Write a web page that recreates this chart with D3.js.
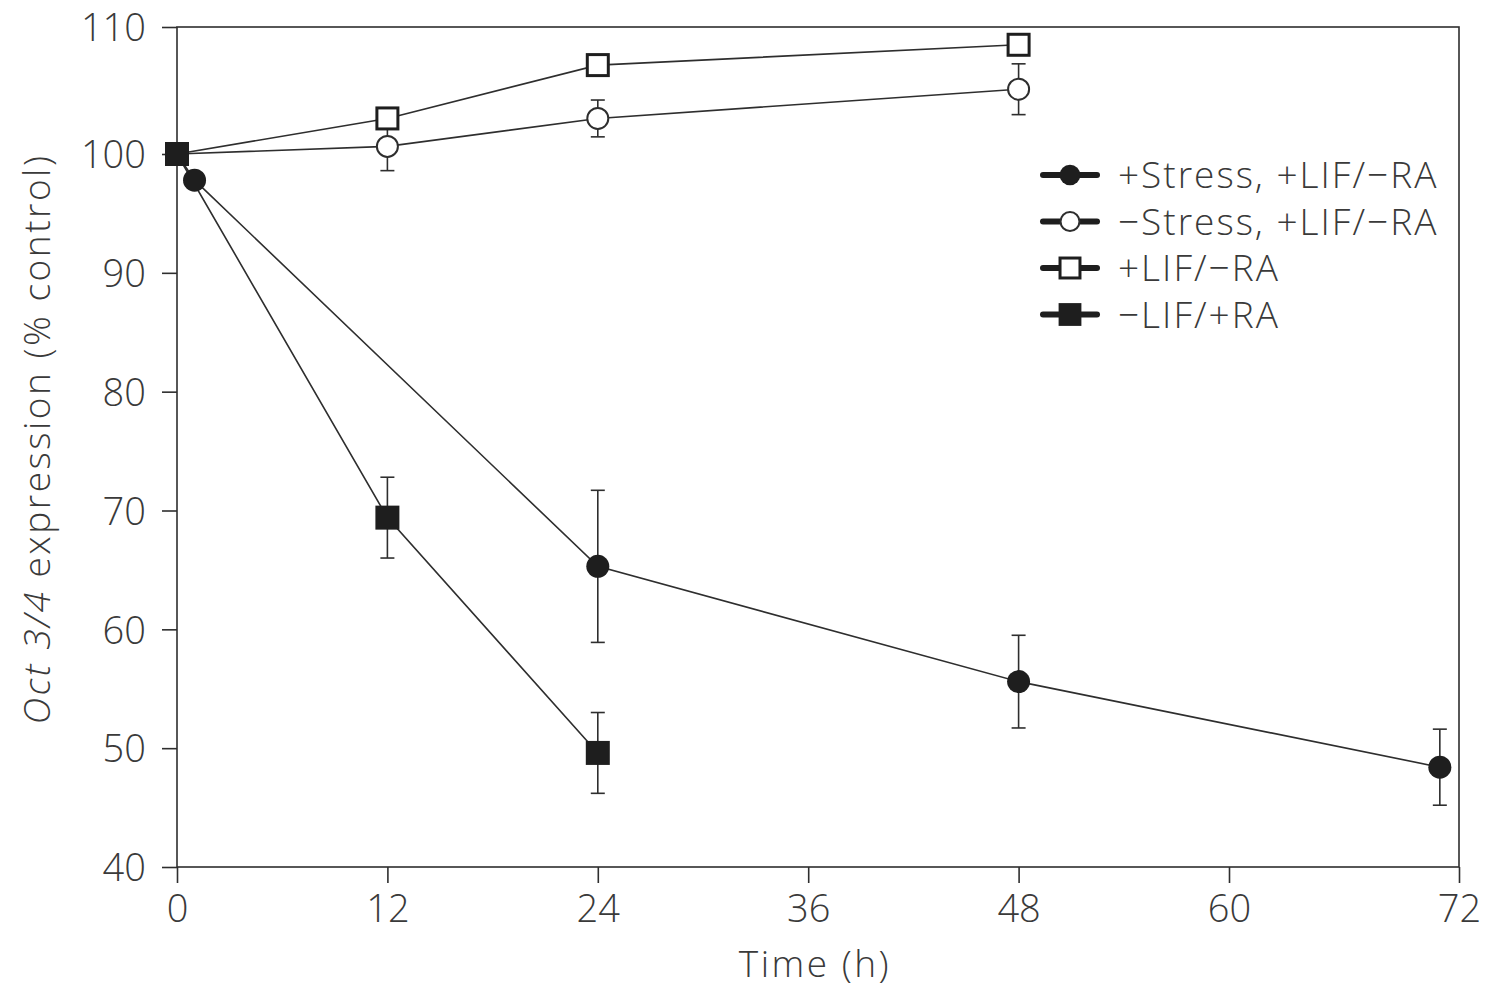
<!DOCTYPE html>
<html>
<head>
<meta charset="utf-8">
<script src="https://cdn.jsdelivr.net/npm/d3@7"></script>
<style>
  html, body { margin: 0; padding: 0; background: #fff; }
  svg { display: block; }
  text { font-family: "Open Sans", "Noto Sans", sans-serif; fill: #3a3a3a; font-weight: 350; }
</style>
</head>
<body>
<svg id="chart" width="1488" height="989"></svg>
<script>
// ---- Data ----
const xTicks = [0, 12, 24, 36, 48, 60, 72];
const yTicks = [40, 50, 60, 70, 80, 90, 100, 110];

const stressHours = [0, 1, 24, 48, 71];
const stressValues = [100, 97.8, 65.3, 55.6, 48.4];
const stressErr = [0, 0, 6.4, 3.9, 3.2];

const noStressHours = [0, 12, 24, 48];
const noStressValues = [100, 100.6, 102.8, 105.1];
const noStressErr = [0, 2.0, 1.45, 2.0];

const lifHours = [0, 12, 24, 48];
const lifValues = [100, 102.8, 107.0, 108.6];
const lifErr = [0, 0.4, 0.7, 0.5];

const raHours = [0, 12, 24];
const raValues = [100, 69.4, 49.6];
const raErr = [0, 3.4, 3.4];

const seriesNames = ["+Stress, +LIF/\u2212RA", "\u2212Stress, +LIF/\u2212RA", "+LIF/\u2212RA", "\u2212LIF/+RA"];

(function () {
function zip(h, v, e) { return h.map((d, i) => ({ x: d, y: v[i], e: e[i] })); }
const series = [
  { name: seriesNames[0], shape: "circle", filled: true, pts: zip(stressHours, stressValues, stressErr) },
  { name: seriesNames[1], shape: "circle", filled: false, pts: zip(noStressHours, noStressValues, noStressErr) },
  { name: seriesNames[2], shape: "square", filled: false, pts: zip(lifHours, lifValues, lifErr) },
  { name: seriesNames[3], shape: "square", filled: true, pts: zip(raHours, raValues, raErr) }
];

const svg = d3.select("#chart");
const pL = 177, pR = 1459, pT = 27, pB = 867;

// piecewise-linear scales reproduce the original figure's slightly uneven axes
const x = d3.scaleLinear().domain([0, 60, 72]).range([pL, 1229, pR]);
const y = d3.scaleLinear().domain([40, 100, 110]).range([pB, 154, pT]);

const ink = "#2e2e2e";
const txt = "#383838";

// Frame
svg.append("rect")
  .attr("x", pL).attr("y", pT)
  .attr("width", pR - pL).attr("height", pB - pT)
  .attr("fill", "none").attr("stroke", ink).attr("stroke-width", 1.6);

// Axes
const yAxis = svg.append("g").attr("transform", `translate(${pL},0)`)
  .call(d3.axisLeft(y).tickValues(yTicks).tickSize(15).tickSizeOuter(0).tickPadding(16));
const xAxis = svg.append("g").attr("transform", `translate(0,${pB})`)
  .call(d3.axisBottom(x).tickValues(xTicks).tickSize(16).tickSizeOuter(0).tickPadding(12));
[xAxis, yAxis].forEach(a => {
  a.select(".domain").remove();
  a.selectAll(".tick line").attr("stroke", ink).attr("stroke-width", 1.6);
  a.selectAll(".tick text").attr("font-size", 38).attr("fill", txt)
    .attr("font-weight", 350)
    .attr("font-family", "'Open Sans', 'Noto Sans', sans-serif");
});
yAxis.selectAll(".tick text").attr("dy", "0.36em");

// Axis titles
svg.append("text")
  .attr("x", (pL + pR) / 2 - 3).attr("y", 977)
  .attr("text-anchor", "middle").attr("font-size", 37)
  .attr("letter-spacing", 2.5)
  .text("Time (h)");

const yt = svg.append("text")
  .attr("transform", `translate(50,${439}) rotate(-90)`)
  .attr("text-anchor", "middle").attr("font-size", 37)
  .attr("letter-spacing", 2.5);
yt.append("tspan").attr("font-style", "italic").text("Oct 3/4");
yt.append("tspan").text(" expression (% control)");

// Lines
const line = d3.line().x(d => x(d.x)).y(d => y(d.y));
series.forEach(s => {
  svg.append("path").datum(s.pts)
    .attr("d", line).attr("fill", "none")
    .attr("stroke", ink).attr("stroke-width", 1.6);
});

// Error bars
const cap = 7;
series.forEach(s => {
  const g = svg.append("g");
  s.pts.filter(d => d.e > 0).forEach(d => {
    const cx = x(d.x), y1 = y(d.y + d.e), y2 = y(d.y - d.e);
    g.append("line").attr("x1", cx).attr("x2", cx).attr("y1", y1).attr("y2", y2)
      .attr("stroke", ink).attr("stroke-width", 1.6);
    [y1, y2].forEach(yy => g.append("line")
      .attr("x1", cx - cap).attr("x2", cx + cap).attr("y1", yy).attr("y2", yy)
      .attr("stroke", ink).attr("stroke-width", 1.6));
  });
});

// Markers
function marker(g, s, cx, cy, scale) {
  const k = scale || 1;
  if (s.shape === "circle") {
    g.append("circle").attr("cx", cx).attr("cy", cy)
      .attr("r", (s.filled ? 11.5 : 10.5) * k)
      .attr("fill", s.filled ? "#1e1e1e" : "#fff")
      .attr("stroke", s.filled ? "#1e1e1e" : ink)
      .attr("stroke-width", s.filled ? 0 : 2);
  } else {
    const half = (s.filled ? 12 : 10.5) * k;
    g.append("rect").attr("x", cx - half).attr("y", cy - half)
      .attr("width", 2 * half).attr("height", 2 * half)
      .attr("fill", s.filled ? "#1e1e1e" : "#fff")
      .attr("stroke", s.filled ? "none" : "#1e1e1e")
      .attr("stroke-width", s.filled ? 0 : 3);
  }
}
[0, 1, 2, 3].forEach(i => {
  const s = series[i];
  const g = svg.append("g");
  s.pts.forEach(d => {
    if (i !== 3 && d.x === 0) return; // hidden under the square at origin
    marker(g, s, x(d.x), y(d.y));
  });
});

// Legend
const legX = 1040, legY0 = 175, legStep = 46.5;
series.forEach((s, i) => {
  const g = svg.append("g").attr("transform", `translate(${legX},${legY0 + i * legStep})`);
  g.append("line").attr("x1", 3).attr("x2", 57).attr("y1", 0).attr("y2", 0)
    .attr("stroke", "#1e1e1e").attr("stroke-width", 6).attr("stroke-linecap", "round");
  marker(g, s, 30, 0, s.shape === "circle" ? 0.9 : 0.95);
  g.append("text").attr("x", 78).attr("y", 0).attr("dy", "0.36em")
    .attr("font-size", 37).attr("letter-spacing", 2).text(s.name);
});
})();
</script>
</body>
</html>
